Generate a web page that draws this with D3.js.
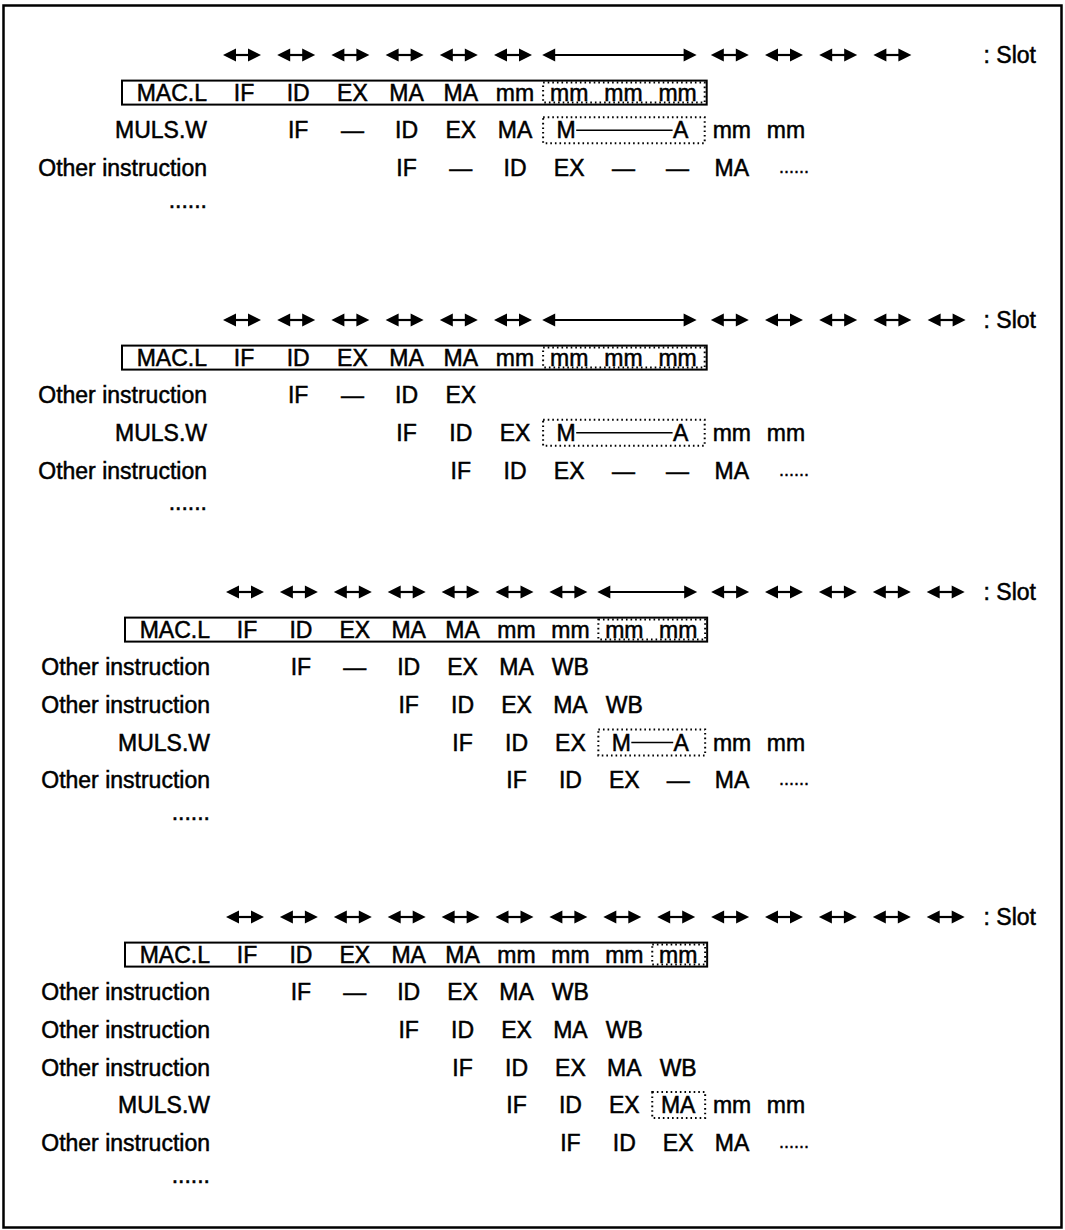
<!DOCTYPE html>
<html>
<head>
<meta charset="utf-8">
<script src="https://cdn.jsdelivr.net/npm/d3@7"></script>
<style>
  html, body { margin: 0; padding: 0; background: #fff; }
  svg { display: block; }
  text { font-family: "Liberation Sans", Arial, Helvetica, sans-serif; fill: #000; }
</style>
</head>
<body>
<div id="chart"></div>
<script>
// slot widths (in pipeline columns) for the arrow row of each panel
const p1Slots = [1, 1, 1, 1, 1, 1, 3, 1, 1, 1, 1];
const p2Slots = [1, 1, 1, 1, 1, 1, 3, 1, 1, 1, 1, 1];
const p3Slots = [1, 1, 1, 1, 1, 1, 1, 2, 1, 1, 1, 1, 1];
const p4Slots = [1, 1, 1, 1, 1, 1, 1, 1, 1, 1, 1, 1, 1, 1];

// instruction names, one per row (arrow row excluded)
const p1Labels = ["MAC.L", "MULS.W", "Other instruction", "......"];
const p2Labels = ["MAC.L", "Other instruction", "MULS.W", "Other instruction", "......"];
const p3Labels = ["MAC.L", "Other instruction", "Other instruction", "MULS.W", "Other instruction", "......"];
const p4Labels = ["MAC.L", "Other instruction", "Other instruction", "Other instruction", "MULS.W", "Other instruction", "......"];

// column where each instruction's first stage sits
const p1Starts = [0, 1, 3];
const p2Starts = [0, 1, 3, 4];
const p3Starts = [0, 1, 3, 4, 5];
const p4Starts = [0, 1, 3, 4, 5, 6];

// stages per instruction ("" = covered by the M—A line)
const p1Stages = [
  ["IF", "ID", "EX", "MA", "MA", "mm", "mm", "mm", "mm"],
  ["IF", "—", "ID", "EX", "MA", "M", "", "A", "mm", "mm"],
  ["IF", "—", "ID", "EX", "—", "—", "MA", "......"]
];
const p2Stages = [
  ["IF", "ID", "EX", "MA", "MA", "mm", "mm", "mm", "mm"],
  ["IF", "—", "ID", "EX"],
  ["IF", "ID", "EX", "M", "", "A", "mm", "mm"],
  ["IF", "ID", "EX", "—", "—", "MA", "......"]
];
const p3Stages = [
  ["IF", "ID", "EX", "MA", "MA", "mm", "mm", "mm", "mm"],
  ["IF", "—", "ID", "EX", "MA", "WB"],
  ["IF", "ID", "EX", "MA", "WB"],
  ["IF", "ID", "EX", "M", "A", "mm", "mm"],
  ["IF", "ID", "EX", "—", "MA", "......"]
];
const p4Stages = [
  ["IF", "ID", "EX", "MA", "MA", "mm", "mm", "mm", "mm"],
  ["IF", "—", "ID", "EX", "MA", "WB"],
  ["IF", "ID", "EX", "MA", "WB"],
  ["IF", "ID", "EX", "MA", "WB"],
  ["IF", "ID", "EX", "MA", "mm", "mm"],
  ["IF", "ID", "EX", "MA", "......"]
];

// dotted boxes: [row, first column, last column]
const p1Dotted = [[0, 6, 8], [1, 6, 8]];
const p2Dotted = [[0, 6, 8], [2, 6, 8]];
const p3Dotted = [[0, 7, 8], [3, 7, 8]];
const p4Dotted = [[0, 8, 8], [4, 8, 8]];

const slotText = ": Slot";

const width = 1065, height = 1230;
const fontSize = 23;

const svg = d3.select("#chart").append("svg")
  .attr("width", width)
  .attr("height", height);

// outer frame
svg.append("rect")
  .attr("x", 3.5).attr("y", 5.5)
  .attr("width", 1058).attr("height", 1222)
  .attr("fill", "none").attr("stroke", "#000").attr("stroke-width", 2.5);

const panels = [
  { slots: p1Slots, labels: p1Labels, starts: p1Starts, stages: p1Stages, dotted: p1Dotted, top: 55, x0: 244, step: 54.2 },
  { slots: p2Slots, labels: p2Labels, starts: p2Starts, stages: p2Stages, dotted: p2Dotted, top: 320, x0: 244, step: 54.2 },
  { slots: p3Slots, labels: p3Labels, starts: p3Starts, stages: p3Stages, dotted: p3Dotted, top: 592, x0: 247, step: 53.9 },
  { slots: p4Slots, labels: p4Labels, starts: p4Starts, stages: p4Stages, dotted: p4Dotted, top: 917, x0: 247, step: 53.9 }
];

function drawArrow(g, x1, x2, y) {
  const head = 13, half = 6.5;
  g.append("line")
    .attr("x1", x1 + head - 2).attr("x2", x2 - head + 2)
    .attr("y1", y).attr("y2", y)
    .attr("stroke", "#000").attr("stroke-width", 2.2);
  g.append("path")
    .attr("d", `M${x1},${y}L${x1 + head},${y - half}L${x1 + head},${y + half}Z`)
    .attr("fill", "#000");
  g.append("path")
    .attr("d", `M${x2},${y}L${x2 - head},${y - half}L${x2 - head},${y + half}Z`)
    .attr("fill", "#000");
}

panels.forEach((p) => {
  const g = svg.append("g");
  const nCols = 14;
  const x = d3.scaleLinear().domain([0, nCols - 1]).range([p.x0, p.x0 + (nCols - 1) * p.step]);
  const y = d3.scaleLinear().domain([0, 1]).range([p.top, p.top + 37.6]);
  const labelRight = x(0) - 37;

  // slot arrows
  let col = 0;
  p.slots.forEach((w) => {
    if (w === 1) {
      drawArrow(g, x(col) - 21, x(col) + 17, y(0));
    } else {
      drawArrow(g, x(col) - 27, x(col + w - 1) + 19, y(0));
    }
    col += w;
  });

  g.append("text")
    .attr("x", 1036).attr("y", y(0))
    .attr("dy", "0.36em")
    .attr("text-anchor", "end")
    .style("font-size", fontSize + "px")
    .attr("stroke", "#000").attr("stroke-width", 0.5)
    .text(slotText);

  // instruction labels
  p.labels.forEach((lab, i) => {
    g.append("text")
      .attr("x", labelRight).attr("y", y(i + 1))
      .attr("dy", lab === "......" ? "0.1em" : "0.36em")
      .attr("text-anchor", "end")
      .style("font-size", fontSize + "px")
      .attr("stroke", "#000").attr("stroke-width", 0.5)
      .text(lab);
  });

  // dotted boxes
  p.dotted.forEach(([r, c1, c2]) => {
    const cy = y(r + 1);
    const hh = r === 0 ? 10 : 13;
    g.append("rect")
      .attr("x", x(c1) - p.step / 2 + 1)
      .attr("y", cy - hh)
      .attr("width", x(c2) - x(c1) + p.step - 1)
      .attr("height", hh * 2)
      .attr("fill", "none")
      .attr("stroke", "#000")
      .attr("stroke-width", 2)
      .attr("stroke-dasharray", "1.6,3");
  });

  // MAC.L solid box
  const macY = y(1);
  const boxRight = x(8) + p.step / 2 + 2;
  g.append("rect")
    .attr("x", labelRight - 85)
    .attr("y", macY - 12)
    .attr("width", boxRight - (labelRight - 85))
    .attr("height", 24)
    .attr("fill", "none")
    .attr("stroke", "#000")
    .attr("stroke-width", 2);

  // stage cells
  p.stages.forEach((row, i) => {
    const cy = y(i + 1);
    const start = p.starts[i];
    let mX = null;
    row.forEach((s, j) => {
      if (s === "") return;
      const c = start + j;
      if (s === "......") {
        g.append("text")
          .attr("x", x(c) - 7).attr("y", cy)
          .attr("dy", "0.3em")
          .style("font-size", "18px")
          .attr("stroke", "#000").attr("stroke-width", 0.4)
          .text(s);
        return;
      }
      let cx = x(c);
      if (s === "M") cx = x(c) - 3;
      if (s === "A" && mX !== null) cx = x(c) + 3;
      g.append("text")
        .attr("x", cx).attr("y", cy)
        .attr("dy", "0.36em")
        .attr("text-anchor", "middle")
        .style("font-size", fontSize + "px")
        .attr("stroke", "#000").attr("stroke-width", 0.5)
        .text(s);
      if (s === "M") {
        mX = cx + 10;
      } else if (s === "A" && mX !== null) {
        g.append("line")
          .attr("x1", mX).attr("x2", cx - 8)
          .attr("y1", cy).attr("y2", cy)
          .attr("stroke", "#000").attr("stroke-width", 1.5);
        mX = null;
      }
    });
  });
});
</script>
</body>
</html>
